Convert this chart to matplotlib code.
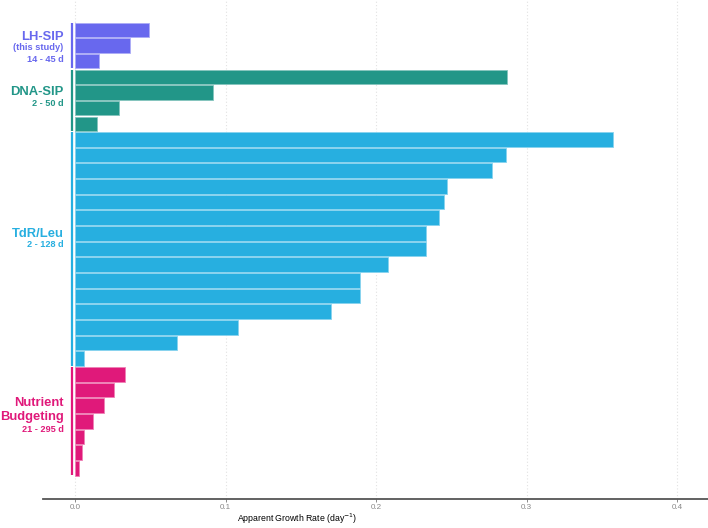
import numpy as np
import matplotlib.pyplot as plt
from matplotlib.colors import to_rgb

plt.rcParams['font.family'] = ['Liberation Sans', 'DejaVu Sans']

# growth rates (day^-1), top to bottom within each group
lh_sip = [0.0495, 0.0365, 0.016]
dna_sip = [0.287, 0.0914, 0.0295, 0.0144]
tdr_leu = [0.357, 0.286, 0.277, 0.247, 0.245, 0.242, 0.233, 0.233,
           0.208, 0.189, 0.189, 0.170, 0.108, 0.068, 0.006]
nutrient = [0.033, 0.026, 0.019, 0.012, 0.006, 0.005, 0.003]

groups = ["LH-SIP", "DNA-SIP", "TdR/Leu", "Nutrient Budgeting"]
group_vals = [lh_sip, dna_sip, tdr_leu, nutrient]
group_cols = ["#6868EE", "#229688", "#27AFE0", "#E0197A"]

# label lines: (text, fontsize, baseline offset from first bar)
group_labels = [
    [("LH-SIP", 9.4, 0.65), ("(this study)", 6.7, 1.29), ("14 - 45 d", 6.6, 2.05)],
    [("DNA-SIP", 9.4, 1.16), ("2 - 50 d", 6.6, 1.86)],
    [("TdR/Leu", 9.4, 6.23), ("2 - 128 d", 6.6, 6.87)],
    [("Nutrient", 9.4, 2.02), ("Budgeting", 9.4, 2.92), ("21 - 295 d", 6.6, 3.68)],
]

def lighten(c, f=0.45):
    r = np.array(to_rgb(c))
    return tuple(r + (1 - r) * f)

fig = plt.figure(figsize=(7.08, 5.28), dpi=100)
ax = fig.add_axes([43 / 708, 29 / 528, 665 / 708, 499 / 528])

start = 0
for name, vals, col, labs in zip(groups, group_vals, group_cols, group_labels):
    pos = np.arange(start, start + len(vals))
    ax.barh(pos, vals, height=0.93, color=col, edgecolor=lighten(col),
            linewidth=0.6, zorder=2)
    ax.plot([-0.0022, -0.0022], [pos[0] - 0.45, pos[-1] + 0.45], color=col,
            lw=1.6, solid_capstyle='butt', zorder=3)
    for txt, fs, off in labs:
        ax.text(-0.0075, start + off, txt, ha='right', va='baseline',
                fontsize=fs, fontweight='bold', color=col)
    start += len(vals)

ax.set_xlim(-0.0212, 0.4203)
ax.set_ylim(29.96, -1.905)
ax.set_xticks([0.0, 0.1, 0.2, 0.3, 0.4])
ax.set_xticklabels(["0.0", "0.1", "0.2", "0.3", "0.4"])
ax.set_yticks([])
ax.grid(axis='x', color='#E2E2E2', linestyle=(0, (1, 2)), lw=0.8, zorder=0)
for s in ['top', 'right', 'left']:
    ax.spines[s].set_visible(False)
ax.spines['bottom'].set_color('#555555')
ax.spines['bottom'].set_linewidth(1.3)
ax.tick_params(axis='x', length=2, width=0.6, color='#777777',
               labelsize=5.8, labelcolor='#888888', pad=1.5)
ax.set_xlabel("Apparent Growth Rate (day$^{-1}$)", fontsize=6.3)
ax.xaxis.set_label_coords(0.382, -0.026)

fig.savefig("out.png", dpi=100)
